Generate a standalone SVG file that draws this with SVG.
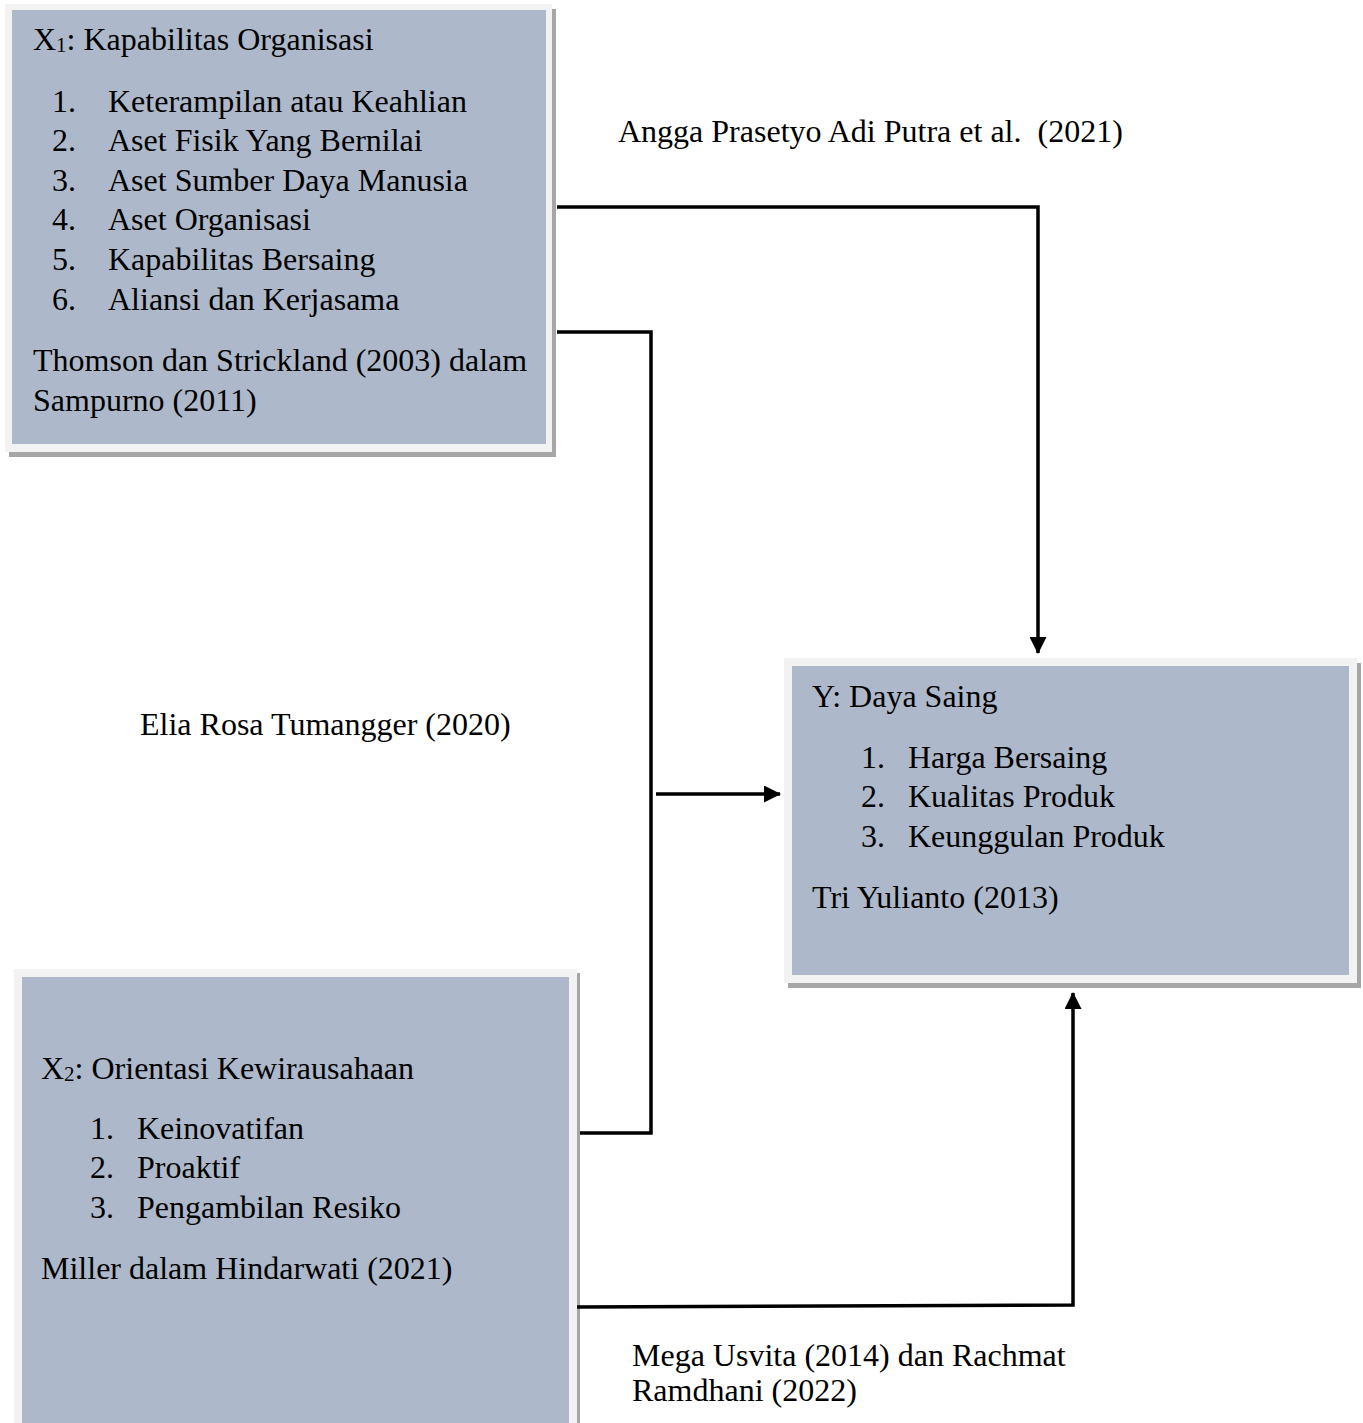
<svg xmlns="http://www.w3.org/2000/svg" width="1363" height="1423" viewBox="0 0 1363 1423">
<style>
.t{font-family:"Liberation Serif","Times New Roman",serif;font-size:32px;fill:#000;white-space:pre}
.sub{font-size:21px}
.shadow{fill:#a6a6a6}
.frame{fill:#f2f2f2}
.inner{fill:#adb9ca}
.ln{fill:none;stroke:#000;stroke-width:3.5}
</style>
<defs>
<marker id="ah" markerWidth="17" markerHeight="17" refX="16" refY="8.5" orient="auto" markerUnits="userSpaceOnUse">
<path d="M0,0 L17,8.5 L0,17 Z" fill="#000"/>
</marker>
</defs>
<rect width="1363" height="1423" fill="#fff"/>
<g id="x1">
<rect class="shadow" x="9" y="9" width="547" height="448"/>
<rect class="frame" x="5" y="4" width="547" height="448"/>
<rect class="inner" x="12" y="10" width="534" height="434"/>
<text class="t" x="33" y="50">X<tspan class="sub" dy="2">1</tspan><tspan dy="-2">: Kapabilitas Organisasi</tspan></text>
<text class="t" x="52" y="112">1.</text><text class="t" x="108" y="112">Keterampilan atau Keahlian</text>
<text class="t" x="52" y="151">2.</text><text class="t" x="108" y="151">Aset Fisik Yang Bernilai</text>
<text class="t" x="52" y="191">3.</text><text class="t" x="108" y="191">Aset Sumber Daya Manusia</text>
<text class="t" x="52" y="230">4.</text><text class="t" x="108" y="230">Aset Organisasi</text>
<text class="t" x="52" y="270">5.</text><text class="t" x="108" y="270">Kapabilitas Bersaing</text>
<text class="t" x="52" y="310">6.</text><text class="t" x="108" y="310">Aliansi dan Kerjasama</text>
<text class="t" x="33" y="371">Thomson dan Strickland (2003) dalam</text>
<text class="t" x="33" y="411">Sampurno (2011)</text>
</g>
<g id="y">
<rect class="shadow" x="788" y="663" width="573" height="325"/>
<rect class="frame" x="784" y="658" width="573" height="325"/>
<rect class="inner" x="792" y="666" width="557" height="309"/>
<text class="t" x="812" y="707">Y: Daya Saing</text>
<text class="t" x="861" y="768">1.</text><text class="t" x="908" y="768">Harga Bersaing</text>
<text class="t" x="861" y="807">2.</text><text class="t" x="908" y="807">Kualitas Produk</text>
<text class="t" x="861" y="847">3.</text><text class="t" x="908" y="847">Keunggulan Produk</text>
<text class="t" x="812" y="908">Tri Yulianto (2013)</text>
</g>
<g id="x2">
<rect class="shadow" x="18" y="973" width="562" height="460"/>
<rect class="frame" x="14" y="969" width="563" height="460"/>
<rect class="inner" x="22" y="977" width="547" height="450"/>
<text class="t" x="41" y="1079">X<tspan class="sub" dy="2">2</tspan><tspan dy="-2">: Orientasi Kewirausahaan</tspan></text>
<text class="t" x="90" y="1139">1.</text><text class="t" x="137" y="1139">Keinovatifan</text>
<text class="t" x="90" y="1178">2.</text><text class="t" x="137" y="1178">Proaktif</text>
<text class="t" x="90" y="1218">3.</text><text class="t" x="137" y="1218">Pengambilan Resiko</text>
<text class="t" x="41" y="1279">Miller dalam Hindarwati (2021)</text>
</g>
<g id="connectors">
<polyline class="ln" points="557,207 1038,207 1038,653" marker-end="url(#ah)"/>
<polyline class="ln" points="557,332 651,332 651,1133 580,1133"/>
<line class="ln" x1="656" y1="794" x2="780" y2="794" marker-end="url(#ah)"/>
<polyline class="ln" points="577,1307 1073,1305 1073,993" marker-end="url(#ah)"/>
</g>
<g id="labels">
<text class="t" x="618" y="142">Angga Prasetyo Adi Putra et al.  (2021)</text>
<text class="t" x="140" y="735">Elia Rosa Tumangger (2020)</text>
<text class="t" x="632" y="1366">Mega Usvita (2014) dan Rachmat</text>
<text class="t" x="632" y="1401">Ramdhani (2022)</text>
</g>
</svg>
